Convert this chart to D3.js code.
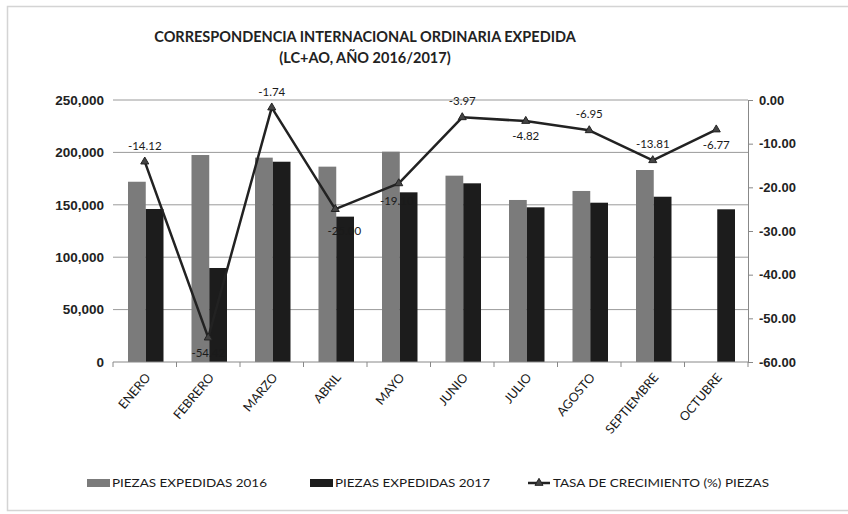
<!DOCTYPE html>
<html>
<head>
<meta charset="utf-8">
<style>
  body { margin: 0; background: #fff; }
  svg { font-family: Lato, "Open Sans", sans-serif; }
</style>
</head>
<body>
<div id="chart"></div>
<script src="https://d3js.org/d3.v7.min.js"></script>
<script>
// data
const meses = ["ENERO", "FEBRERO", "MARZO", "ABRIL", "MAYO", "JUNIO", "JULIO", "AGOSTO", "SEPTIEMBRE", "OCTUBRE"];
const piezas2016 = [172000, 197500, 195000, 186400, 200700, 177800, 154600, 163200, 183200, null];
const piezas2017 = [146000, 89700, 191100, 138700, 161900, 170500, 147600, 152000, 157700, 145700];
const tasa = [-14.12, -54.42, -1.74, -25.00, -19.10, -3.97, -4.82, -6.95, -13.81, -6.77];
const leftTicks = [0, 50000, 100000, 150000, 200000, 250000];
const rightTicks = [0, -10, -20, -30, -40, -50, -60];
// where each line label sits
const labelPos = ["up", "down", "up", "downright", "downleft", "up", "down", "up", "up", "down"];

const width = 848, height = 514;
const margin = { top: 100, right: 100, bottom: 152, left: 113 };
const w = 748 - margin.left;
const h = 362 - margin.top;

const svg = d3.select("#chart").append("svg")
  .attr("width", width)
  .attr("height", height);

// outer frame
svg.append("rect")
  .attr("x", 7.5).attr("y", 6.5)
  .attr("width", 850).attr("height", 504)
  .attr("fill", "#fff")
  .attr("stroke", "#d4d4d4")
  .attr("stroke-width", 1.5);

// title
const title = svg.append("text")
  .attr("text-anchor", "middle")
  .attr("font-weight", "bold")
  .attr("font-size", 14.5)
  .attr("fill", "#222");
title.append("tspan").attr("x", 365).attr("y", 42).text("CORRESPONDENCIA INTERNACIONAL ORDINARIA EXPEDIDA");
title.append("tspan").attr("x", 365).attr("y", 63).text("(LC+AO, AÑO 2016/2017)");

const g = svg.append("g")
  .attr("transform", `translate(${margin.left},${margin.top})`);

// scales
const x0 = d3.scaleBand().domain(meses).range([0, w]).paddingInner(0).paddingOuter(0);
const x1 = d3.scaleBand().domain(["2016", "2017"]).range([15, x0.bandwidth() - 13]).padding(0);
const yL = d3.scaleLinear().domain([0, 250000]).range([h, 0]);
const yR = d3.scaleLinear().domain([-60, 0]).range([h, 0]);

// gridlines
g.append("g")
  .selectAll("line")
  .data(leftTicks.filter(t => t > 0))
  .join("line")
  .attr("x1", 0).attr("x2", w)
  .attr("y1", d => yL(d)).attr("y2", d => yL(d))
  .attr("stroke", "#9a9a9a")
  .attr("stroke-width", 1);

// left axis
const axL = g.append("g")
  .call(d3.axisLeft(yL).tickValues(leftTicks).tickFormat(d3.format(",")).tickSize(0).tickPadding(9));
axL.select(".domain").remove();
axL.selectAll("text")
  .attr("font-size", 13.5)
  .attr("font-weight", "bold")
  .attr("fill", "#222");

// right axis
const axR = g.append("g")
  .attr("transform", `translate(${w},0)`)
  .call(d3.axisRight(yR).tickValues(rightTicks).tickFormat(d3.format(".2f")).tickSize(5).tickPadding(6));
axR.select(".domain").attr("stroke", "#888");
axR.selectAll(".tick line").attr("stroke", "#888");
axR.selectAll("text")
  .attr("font-size", 13)
  .attr("font-weight", "bold")
  .attr("fill", "#222")
  .text(d => d3.format(".2f")(d).replace("−", "-"));

// bars
const groups = g.append("g")
  .selectAll("g")
  .data(meses)
  .join("g")
  .attr("transform", d => `translate(${x0(d)},0)`);

groups.append("rect")
  .datum((d, i) => piezas2016[i])
  .filter(d => d != null)
  .attr("x", x1("2016"))
  .attr("width", x1.bandwidth())
  .attr("y", d => yL(d))
  .attr("height", d => h - yL(d))
  .attr("fill", "#7b7b7b");

groups.append("rect")
  .datum((d, i) => piezas2017[i])
  .attr("x", x1("2017"))
  .attr("width", x1.bandwidth())
  .attr("y", d => yL(d))
  .attr("height", d => h - yL(d))
  .attr("fill", "#1c1c1c");

// bottom axis
const axB = g.append("g")
  .attr("transform", `translate(0,${h})`);
axB.append("line")
  .attr("x1", 0).attr("x2", w)
  .attr("stroke", "#888");
axB.selectAll("line.tk")
  .data(d3.range(meses.length + 1))
  .join("line")
  .attr("class", "tk")
  .attr("x1", i => i * x0.step()).attr("x2", i => i * x0.step())
  .attr("y1", 0).attr("y2", 5)
  .attr("stroke", "#888");
axB.selectAll("text")
  .data(meses)
  .join("text")
  .attr("transform", d => `translate(${x0(d) + x0.bandwidth() / 2 + 3},${13}) rotate(-50)`)
  .attr("text-anchor", "end")
  .attr("dy", "0.35em")
  .attr("font-size", 12.5)
  .attr("fill", "#1a1a1a")
  .text(d => d);

// growth line
const cx = d => x0(d) + x0.bandwidth() / 2;
const line = d3.line()
  .x((d, i) => cx(meses[i]))
  .y(d => yR(d));

g.append("path")
  .datum(tasa)
  .attr("d", line)
  .attr("fill", "none")
  .attr("stroke", "#222")
  .attr("stroke-width", 2.5)
  .attr("stroke-linejoin", "round");

const tri = d3.symbol().type(d3.symbolTriangle).size(28);
g.append("g")
  .selectAll("path")
  .data(tasa)
  .join("path")
  .attr("d", tri)
  .attr("transform", (d, i) => `translate(${cx(meses[i])},${yR(d)})`)
  .attr("fill", "#444")
  .attr("stroke", "#222");

const offs = {
  up: [0, -12],
  down: [0, 19],
  downright: [9, 26],
  downleft: [-2, 22]
};
g.append("g")
  .selectAll("text")
  .data(tasa)
  .join("text")
  .attr("x", (d, i) => cx(meses[i]) + offs[labelPos[i]][0])
  .attr("y", (d, i) => yR(d) + offs[labelPos[i]][1])
  .attr("text-anchor", "middle")
  .attr("font-size", 11.5)
  .attr("fill", "#1a1a1a")
  .text(d => d.toFixed(2));

// legend
const leg = svg.append("g").attr("font-size", 12).attr("fill", "#1a1a1a");
const legItems = [
  { x: 87, label: "PIEZAS EXPEDIDAS 2016", color: "#7b7b7b", type: "rect", tl: 155 },
  { x: 310, label: "PIEZAS EXPEDIDAS 2017", color: "#1c1c1c", type: "rect", tl: 155 },
  { x: 528, label: "TASA DE CRECIMIENTO (%) PIEZAS", color: "#222", type: "line", tl: 216 }
];
legItems.forEach(it => {
  if (it.type === "rect") {
    leg.append("rect")
      .attr("x", it.x).attr("y", 479)
      .attr("width", 23).attr("height", 8)
      .attr("fill", it.color);
  } else {
    leg.append("line")
      .attr("x1", it.x).attr("x2", it.x + 22)
      .attr("y1", 483).attr("y2", 483)
      .attr("stroke", it.color).attr("stroke-width", 2.5);
    leg.append("path")
      .attr("d", tri)
      .attr("transform", `translate(${it.x + 11},483)`)
      .attr("fill", "#444").attr("stroke", "#222");
  }
  leg.append("text")
    .attr("x", it.x + 25)
    .attr("y", 487)
    .attr("textLength", it.tl)
    .attr("lengthAdjust", "spacingAndGlyphs")
    .text(it.label);
});
</script>
</body>
</html>
